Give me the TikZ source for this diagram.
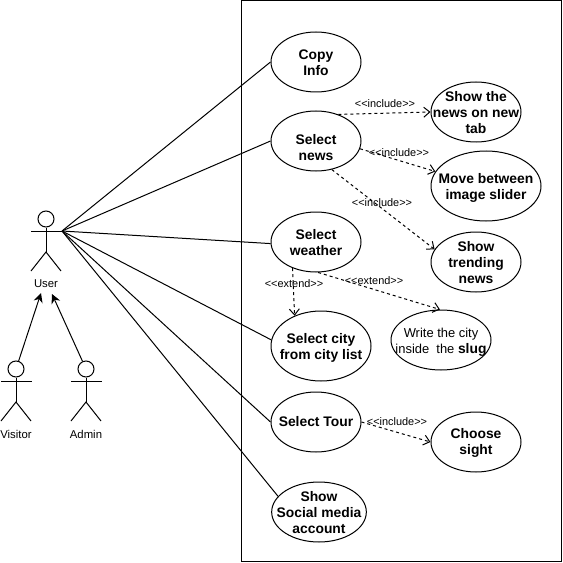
\documentclass[tikz,border=0pt]{standalone}
\usepackage{fontspec}
\setmainfont{Liberation Sans}
\usetikzlibrary{shapes.geometric,arrows.meta}

\newcommand{\lift}[1]{\rule{0pt}{#1}}

\tikzset{
  actor/.pic={
    \node[head] (head) at (0,0) {};
    \coordinate (hand) at (16,12);
    \draw (head) -- (0,33);
    \draw (-15,12) -- (hand);
    \draw (-15,52) -- (0,33) -- (15,52);
    \node[actorname] (name) at (0,65) {\tikzpictext};
  }
}

\begin{document}
\begin{tikzpicture}[x=0.75pt, y=-0.75pt, line width=0.75pt,
  head/.style={circle, draw, minimum size=12pt, inner sep=0pt},
  actorname/.style={inner sep=0pt, font=\fontsize{8.5}{10}\selectfont},
  usecase/.style={ellipse, draw, inner sep=-15pt, align=center, minimum width=67.5pt, minimum height=45pt, font=\fontsize{10.4}{12}\selectfont\bfseries},
  tag/.style={inner sep=0pt, font=\fontsize{8.2}{10}\selectfont},
  depend/.style={dash pattern=on 2.25pt off 2.25pt, -{Straight Barb[length=4.5pt,width=7.5pt]}},
  inherit/.style={-{Stealth[length=7pt,width=7pt]}}]
\useasboundingbox (0,0) rectangle (563,563);

\node[draw, minimum width=240pt, minimum height=420pt, inner sep=0pt] (system) at (401,281) {};

\pic[pic text=User] (user) at (46,219) {actor};
\pic[pic text=Visitor] (visitor) at (16,369) {actor};
\pic[pic text=Admin] (admin) at (86,369) {actor};
\coordinate (userleft) at (41,293);
\coordinate (userright) at (52,294);

\node[usecase] (copy) at (316,62) {\lift{9pt}Copy\\Info};
\node[usecase] (news) at (316,141) {\lift{18pt}Select\\news};
\node[usecase] (tab) at (476,112) {\lift{9pt}Show the\\news on new\\tab};
\node[usecase, minimum width=82.5pt, minimum height=52.5pt] (slider) at (486,186) {\lift{10.5pt}Move between\\image slider};
\node[usecase] (trending) at (476,262) {\lift{9pt}Show\\trending\\news};
\node[usecase] (weather) at (316,242) {\lift{8.5pt}Select\\weather};
\node[usecase, minimum width=75pt, minimum height=52.5pt] (city) at (321,346) {\lift{10.5pt}Select city\\from city list};
\node[usecase, minimum width=75pt, font=\fontsize{9.7}{12}\selectfont] (slug) at (441,340) {\lift{10pt}Write the city\\inside\ \ the {\fontsize{10.4}{12}\selectfont\bfseries slug}};
\node[usecase] (tour) at (316,422) {Select Tour};
\node[usecase] (sight) at (476,442) {\lift{9pt}Choose\\sight};
\node[usecase, minimum width=71pt] (social) at (319,512) {\lift{9pt}Show\\Social media\\account};

\draw (userhand) -- (copy.west);
\draw (userhand) -- (news.west);
\draw (userhand) -- (weather.182);
\draw (userhand) -- (city.173);
\draw (userhand) -- (tour.west);
\draw (userhand) -- (social.159);

\draw[inherit] (visitorhead) -- (userleft);
\draw[inherit] (adminhead) -- (userright);

\draw[depend] (news.50) -- (tab.west);
\draw[depend] (news.-10) -- (slider.164);
\draw[depend] (news.-61) -- (trending.163);
\draw[depend] (weather.228) -- (city.131);
\draw[depend] (weather.-86) -- (slug.92);
\draw[depend] (tour.east) -- (sight.west);

\node[tag] (inc1) at (385,104) {{<}{<}include{>}{>}};
\node[tag] (inc2) at (399,153) {{<}{<}include{>}{>}};
\node[tag] (inc3) at (382,203) {{<}{<}include{>}{>}};
\node[tag] (ext1) at (294,284) {{<}{<}extend{>}{>}};
\node[tag] (ext2) at (374,281) {{<}{<}extend{>}{>}};
\node[tag] (inc4) at (397,422) {{<}{<}include{>}{>}};
\end{tikzpicture}
\end{document}
